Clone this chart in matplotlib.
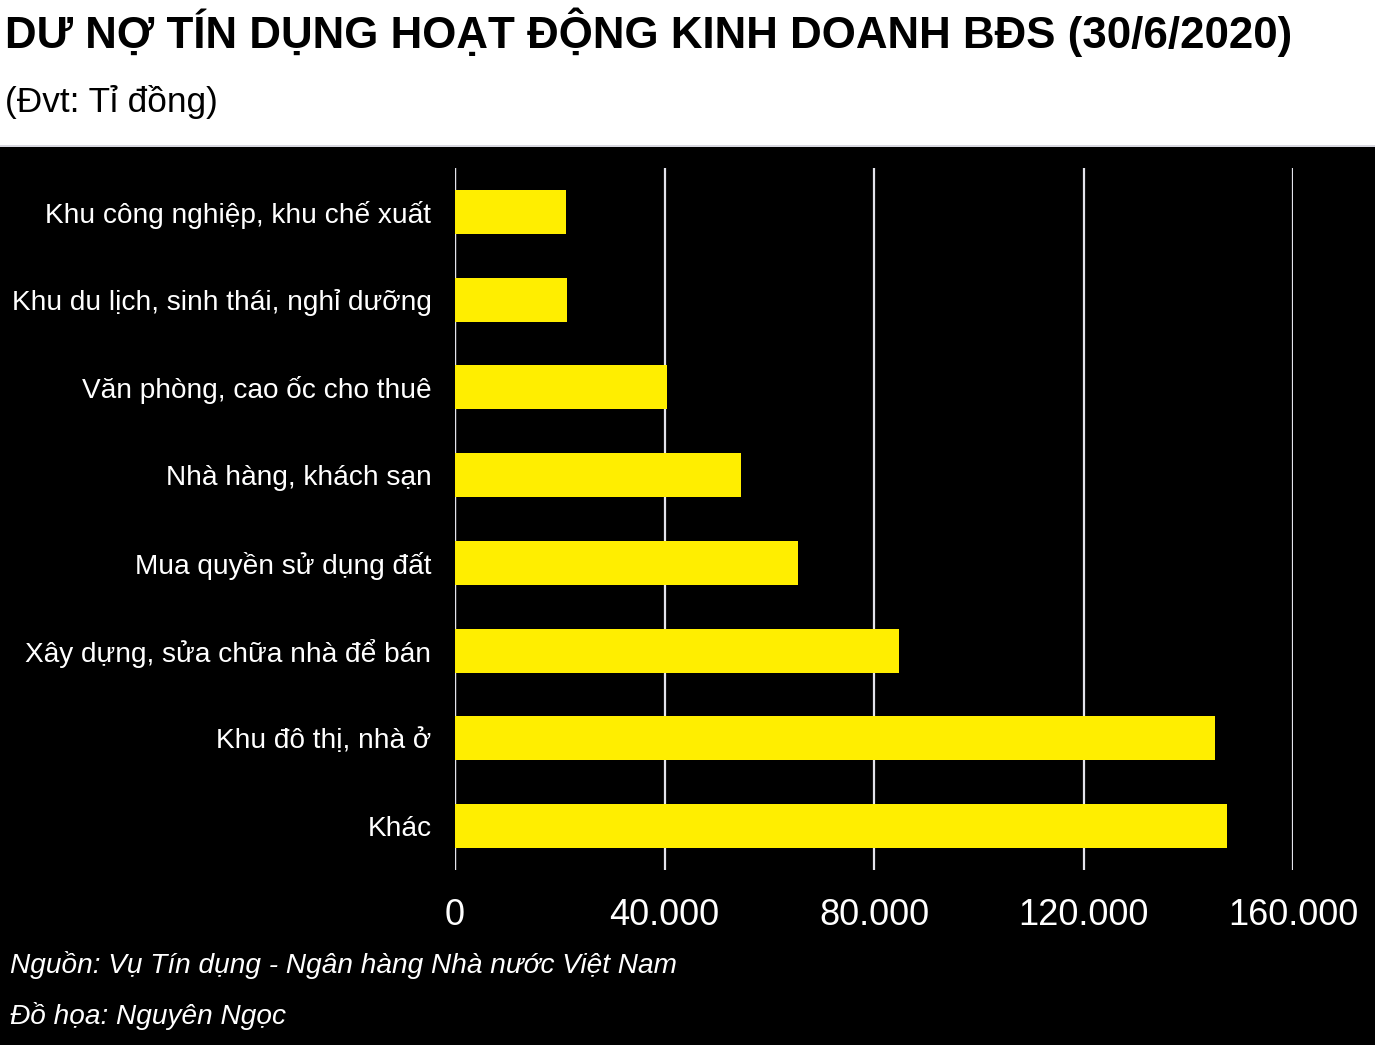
import matplotlib.pyplot as plt
from matplotlib.patches import Rectangle

plt.rcParams['font.family'] = ['Liberation Sans', 'DejaVu Sans']

# dữ liệu (tỉ đồng), từ trên xuống
categories = [
    "Khu công nghiệp, khu chế xuất",
    "Khu du lịch, sinh thái, nghỉ dưỡng",
    "Văn phòng, cao ốc cho thuê",
    "Nhà hàng, khách sạn",
    "Mua quyền sử dụng đất",
    "Xây dựng, sửa chữa nhà để bán",
    "Khu đô thị, nhà ở",
    "Khác",
]
values = [21200, 21400, 40500, 54600, 65500, 84800, 145100, 147400]
xticks = [0, 40000, 80000, 120000, 160000]
xtick_labels = ["0", "40.000", "80.000", "120.000", "160.000"]

W, H = 1375, 1045
fig = plt.figure(figsize=(W / 100, H / 100), dpi=100, facecolor='black')

# phần đầu nền trắng
fig.patches.append(Rectangle((0, 1 - 145 / H), 1, 145 / H, transform=fig.transFigure,
                             facecolor='white', edgecolor='none', zorder=0))
fig.patches.append(Rectangle((0, 1 - 147 / H), 1, 2 / H, transform=fig.transFigure,
                             facecolor='#d8d8e0', edgecolor='none', zorder=0))

fig.text(5 / W, 1 - 48 / H, "DƯ NỢ TÍN DỤNG HOẠT ĐỘNG KINH DOANH BĐS (30/6/2020)",
         fontsize=31.6, fontweight='bold', color='black', ha='left', va='baseline')
fig.text(5 / W, 1 - 112 / H, "(Đvt: Tỉ đồng)",
         fontsize=25.4, color='black', ha='left', va='baseline')

left, right = 455 / W, 1293 / W
bottom, top = 1 - 870 / H, 1 - 168 / H
ax = fig.add_axes([left, bottom, right - left, top - bottom])
ax.set_facecolor('black')

y = list(range(len(categories)))
ax.barh(y, values, height=0.5, color='#ffee00', zorder=3)
ax.set_ylim(len(categories) - 0.5, -0.5)
ax.set_xlim(0, 160000)

ax.set_xticks(xticks)
ax.set_xticklabels(xtick_labels)
ax.set_yticks(y)
ax.set_yticklabels(categories)
ax.tick_params(axis='x', colors='white', labelsize=26, length=0, pad=20)
ax.tick_params(axis='y', colors='white', labelsize=20.2, length=0, pad=17)

ax.grid(axis='x', color='#e4e4ec', linewidth=1.6, zorder=1)
ax.axvline(0, color='#e4e4ec', linewidth=1.6, zorder=2)
for s in ax.spines.values():
    s.set_visible(False)

fig.text(10 / W, 1 - 973 / H, "Nguồn: Vụ Tín dụng - Ngân hàng Nhà nước Việt Nam",
         fontsize=20.2, style='italic', color='white', ha='left', va='baseline')
fig.text(10 / W, 1 - 1024 / H, "Đồ họa: Nguyên Ngọc",
         fontsize=20.2, style='italic', color='white', ha='left', va='baseline')

fig.savefig('out.png', dpi=100, facecolor='black')
